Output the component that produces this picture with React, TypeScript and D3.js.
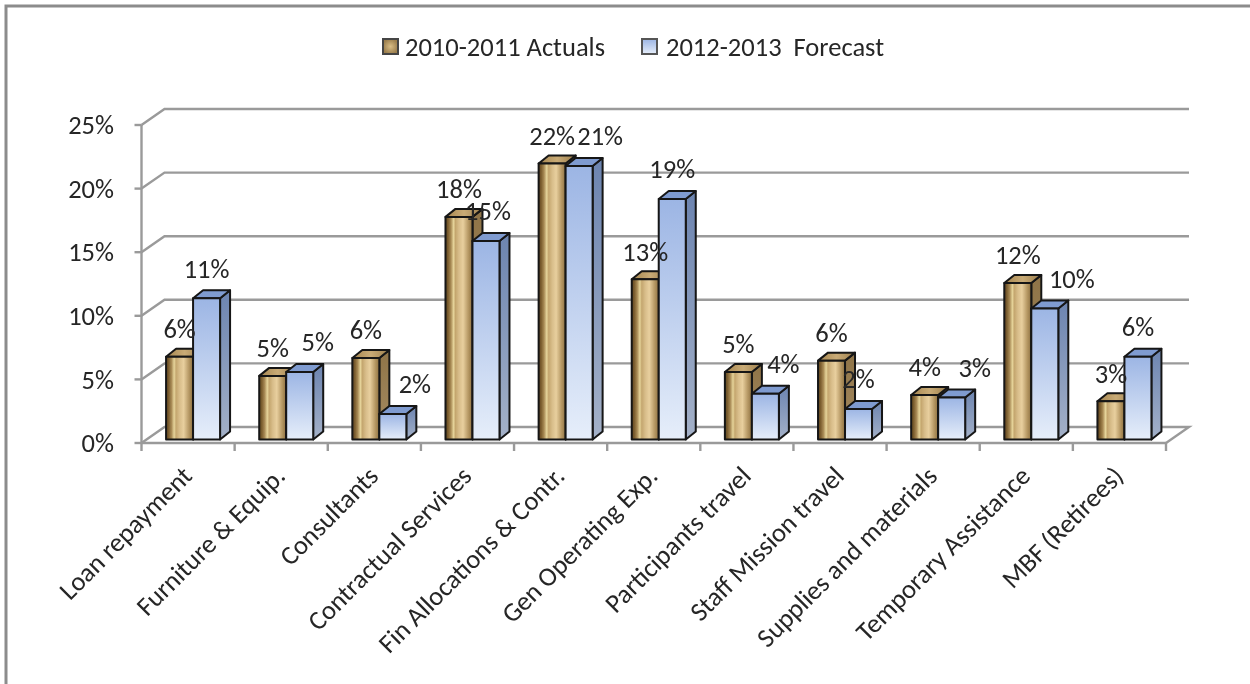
import React from "react";
import * as d3 from "d3";

const categories = ["Loan repayment","Furniture & Equip.","Consultants","Contractual Services","Fin Allocations & Contr.","Gen Operating Exp.","Participants travel","Staff Mission travel","Supplies and materials","Temporary Assistance","MBF (Retirees)"];
const actuals = [6.5,5.0,6.4,17.5,21.7,12.6,5.3,6.2,3.5,12.3,3.0];
const forecast = [11.1,5.3,2.0,15.6,21.5,18.9,3.6,2.4,3.3,10.3,6.5];
const actualLabels = ["6%","5%","6%","18%","22%","13%","5%","6%","4%","12%","3%"];
const forecastLabels = ["11%","5%","2%","15%","21%","19%","4%","2%","3%","10%","6%"];
const yTicks = [0,5,10,15,20,25];
const seriesNames = ["2010-2011 Actuals","2012-2013  Forecast"];
// label layout: horizontal nudge of the forecast labels, in px
const forecastNudge = [0,18,22,2,21,0,18,0,23,27,0];

const W = 1250, H = 684;
const FONT = "Carlito, Lato, sans-serif";
const TEXT = "#262626";
const AXIS = "#9a9a9a";
const depth = { x: 23, y: -16 };
const barDepth = { x: 10, y: -8 };
const x0 = 141.5, x1 = 1166, yBase = 443, yTop = 125;
const barW = 27;
const FS = 26.5;

export default function App() {
  const x = d3.scaleBand<number>().domain(d3.range(categories.length)).range([x0, x1]);
  const y = d3.scaleLinear().domain([0, 25]).range([yBase, yTop]);
  const baseY = y(0) - 3.5;
  const heightOf = (v: number) => y(0) - y(v);

  const stops: [number, string][] = [[0,"#5e4420"],[0.1,"#7d5f30"],[0.2,"#a88a55"],[0.3,"#e6d49a"],[0.37,"#c4a66e"],[0.5,"#d8bd8a"],[0.65,"#e8cf9e"],[0.85,"#b59763"],[1,"#8d7040"]];

  const bar = (cx: number, v: number, kind: "a" | "f", key: string) => {
    const h = heightOf(v);
    const t = baseY - h;
    const r = cx + barW;
    const dx = barDepth.x, dy = barDepth.y;
    const path = d3.path();
    path.moveTo(cx, t); path.lineTo(cx + dx, t + dy); path.lineTo(r + dx, t + dy); path.lineTo(r, t); path.closePath();
    const top = path.toString();
    const sp = d3.path();
    sp.moveTo(r, t); sp.lineTo(r + dx, t + dy); sp.lineTo(r + dx, baseY + dy); sp.lineTo(r, baseY); sp.closePath();
    return (
      <g key={key} stroke="#161616" strokeWidth={2} strokeLinejoin="round">
        <path d={sp.toString()} fill={kind === "a" ? "url(#aSide)" : "url(#fSide)"} />
        <path d={top} fill={kind === "a" ? "url(#aTop)" : "#7f9bd0"} />
        <rect x={cx} y={t} width={barW} height={h} fill={kind === "a" ? "url(#aFront)" : "url(#fFront)"} />
      </g>
    );
  };

  const gridPts = (v: number) => {
    const p = d3.path();
    p.moveTo(x0, y(v)); p.lineTo(x0 + depth.x, y(v) + depth.y); p.lineTo(x1 + depth.x, y(v) + depth.y);
    if (v === 0) p.lineTo(x1, y(v));
    return p.toString();
  };

  const barOffset = (x.bandwidth() - barW * 2) / 2 + 5;

  return (
    <svg width={W} height={H} viewBox={`0 0 ${W} ${H}`} style={{ position: "absolute", left: 0, top: 0, background: "#fff" }} fontFamily={FONT}>
      <defs>
        <linearGradient id="aFront" x1="0" x2="1" y1="0" y2="0">
          {stops.map(([o, c]) => <stop key={o} offset={o} stopColor={c} />)}
        </linearGradient>
        <linearGradient id="aTop" x1="0" x2="1" y1="0" y2="0">
          <stop offset="0" stopColor="#a5854f" />
          <stop offset="0.5" stopColor="#c9ab76" />
          <stop offset="1" stopColor="#9c7e4c" />
        </linearGradient>
        <radialGradient id="aSwatch">
          <stop offset="0" stopColor="#d9bd85" />
          <stop offset="1" stopColor="#9c7f4e" />
        </radialGradient>
        <linearGradient id="fFront" x1="0" x2="0" y1="0" y2="1">
          <stop offset="0" stopColor="#9cb5e4" />
          <stop offset="1" stopColor="#e6eefa" />
        </linearGradient>
        <linearGradient id="fSide" x1="0" x2="0" y1="0" y2="1">
          <stop offset="0" stopColor="#6c84b0" />
          <stop offset="1" stopColor="#a4b1c8" />
        </linearGradient>
        <linearGradient id="aSide" x1="0" x2="0" y1="0" y2="1">
          <stop offset="0" stopColor="#8f7448" />
          <stop offset="1" stopColor="#a68c63" />
        </linearGradient>
        <filter id="soft" x="0" y="0" width={W} height={H} filterUnits="userSpaceOnUse">
          <feGaussianBlur stdDeviation="0.5" />
        </filter>
      </defs>
      <g filter="url(#soft)">
        <path d={`M6,${H} V6 H${W}`} fill="none" stroke="#8c8c8c" strokeWidth={3} />

        {yTicks.map(v => <path key={v} d={gridPts(v)} fill="none" stroke={AXIS} strokeWidth={2.4} />)}
        <line x1={x0} x2={x0} y1={yTop} y2={yBase} stroke={AXIS} strokeWidth={2.4} />
        {yTicks.map(v => <line key={v} x1={x0 - 7} x2={x0} y1={y(v)} y2={y(v)} stroke={AXIS} strokeWidth={2.4} />)}
        <line x1={x0} x2={x1} y1={yBase} y2={yBase} stroke={AXIS} strokeWidth={2.4} />
        {d3.range(categories.length + 1).map(i => {
          const tx = x0 + i * x.step();
          return <line key={i} x1={tx} x2={tx} y1={yBase} y2={yBase + 8} stroke={AXIS} strokeWidth={2.4} />;
        })}

        {yTicks.map(v => (
          <text key={v} x={114} y={y(v)} dy="0.35em" textAnchor="end" fontSize={FS} fill={TEXT}>{v}%</text>
        ))}

        {categories.map((c, i) => {
          const bx = (x(i) as number) + barOffset;
          return (
            <g key={c}>
              {bar(bx, actuals[i], "a", "a")}
              {bar(bx + barW, forecast[i], "f", "f")}
            </g>
          );
        })}

        {categories.map((c, i) => {
          const bx = (x(i) as number) + barOffset;
          return (
            <g key={c} fontSize={FS} fill={TEXT} textAnchor="middle">
              <text x={bx + barW / 2} y={baseY - heightOf(actuals[i]) - 28} dy="0.35em">{actualLabels[i]}</text>
              <text x={bx + barW * 1.5 + forecastNudge[i]} y={baseY - heightOf(forecast[i]) - 30} dy="0.35em">{forecastLabels[i]}</text>
            </g>
          );
        })}

        {categories.map((c, i) => {
          const tx = (x(i) as number) + x.bandwidth() / 2 - 1;
          return (
            <text key={c} transform={`translate(${tx},${yBase + 28}) rotate(-45)`} textAnchor="end" dy="0.35em" fontSize={FS} fill={TEXT}>{c}</text>
          );
        })}

        <g fontSize={FS} fill={TEXT}>
          <rect x={383} y={39} width={15} height={15} fill="url(#aSwatch)" stroke="#444" strokeWidth={2} />
          <text x={405} y={47} dy="0.35em" style={{ whiteSpace: "pre" }}>{seriesNames[0]}</text>
          <rect x={642} y={39} width={15} height={15} fill="url(#fFront)" stroke="#555" strokeWidth={2} />
          <text x={666} y={47} dy="0.35em" style={{ whiteSpace: "pre" }}>{seriesNames[1]}</text>
        </g>
      </g>
    </svg>
  );
}
